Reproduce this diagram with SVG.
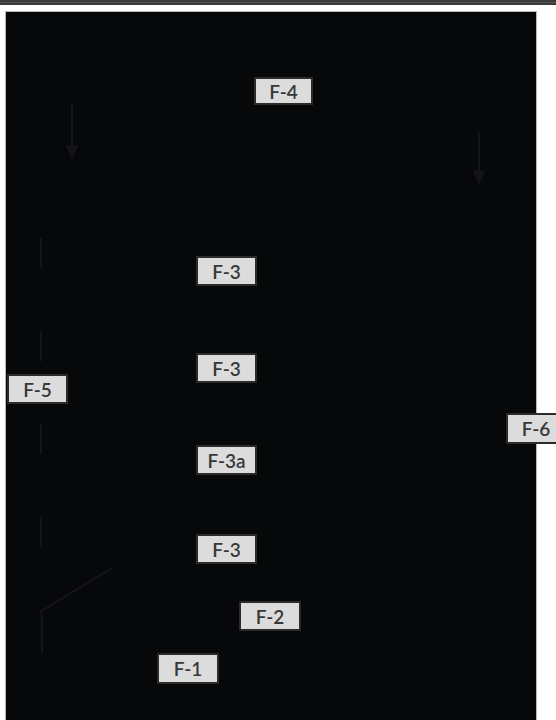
<svg xmlns="http://www.w3.org/2000/svg" width="556" height="720" viewBox="0 0 556 720">
<style>
.lbl rect{fill:#dcdcdc;stroke:#2b2b2b;stroke-width:2}
.lbl text{font-family:Lato,"Open Sans","DejaVu Sans",sans-serif;font-size:19px;font-weight:600;fill:#383838;text-anchor:middle;dominant-baseline:central}
.ln{stroke:#141518;stroke-width:2;fill:none}
</style>
<defs>
<marker id="ah" viewBox="0 0 10 10" refX="9" refY="5" markerWidth="7" markerHeight="7" markerUnits="strokeWidth" orient="auto">
<path d="M0,0.5 L10,5 L0,9.5 Z" fill="#141518"/>
</marker>
</defs>
<rect x="0" y="0" width="556" height="720" fill="#ffffff"/>
<rect x="0" y="0" width="556" height="5" fill="#3a3a3a"/>
<rect x="0" y="2" width="556" height="1" fill="#555"/>
<rect x="5.5" y="11.5" width="531" height="710" fill="#07080a" stroke="#b8b8b8" stroke-width="1"/>
<g id="connectors">
<line class="ln" x1="72" y1="103" x2="72" y2="158" stroke-width="2.5" marker-end="url(#ah)"/>
<line class="ln" x1="479" y1="132" x2="479" y2="183" stroke-width="2.5" marker-end="url(#ah)"/>
<line class="ln" x1="41" y1="238" x2="41" y2="555" stroke-dasharray="30 63"/>
<polyline class="ln" points="112,568 40,612 42,617 42,653"/>
</g>
<g id="F-4" class="lbl"><rect x="255" y="78" width="57" height="26"/><text x="283.5" y="91">F-4</text></g>
<g id="F-3-top" class="lbl"><rect x="197" y="257" width="59" height="28"/><text x="226.5" y="271">F-3</text></g>
<g id="F-3-mid" class="lbl"><rect x="197" y="354" width="59" height="28"/><text x="226.5" y="368">F-3</text></g>
<g id="F-3a" class="lbl"><rect x="197" y="446" width="59" height="28"/><text x="226.5" y="460">F-3a</text></g>
<g id="F-3-bot" class="lbl"><rect x="197" y="535" width="59" height="28"/><text x="226.5" y="549">F-3</text></g>
<g id="F-5" class="lbl"><rect x="8" y="375" width="59" height="28"/><text x="37.5" y="389">F-5</text></g>
<g id="F-6" class="lbl"><rect x="507" y="414" width="60" height="29"/><text x="536" y="428.5">F-6</text></g>
<g id="F-2" class="lbl"><rect x="240" y="602" width="60" height="28"/><text x="270" y="616">F-2</text></g>
<g id="F-1" class="lbl"><rect x="158" y="654" width="60" height="29"/><text x="188" y="668.5">F-1</text></g>
</svg>
